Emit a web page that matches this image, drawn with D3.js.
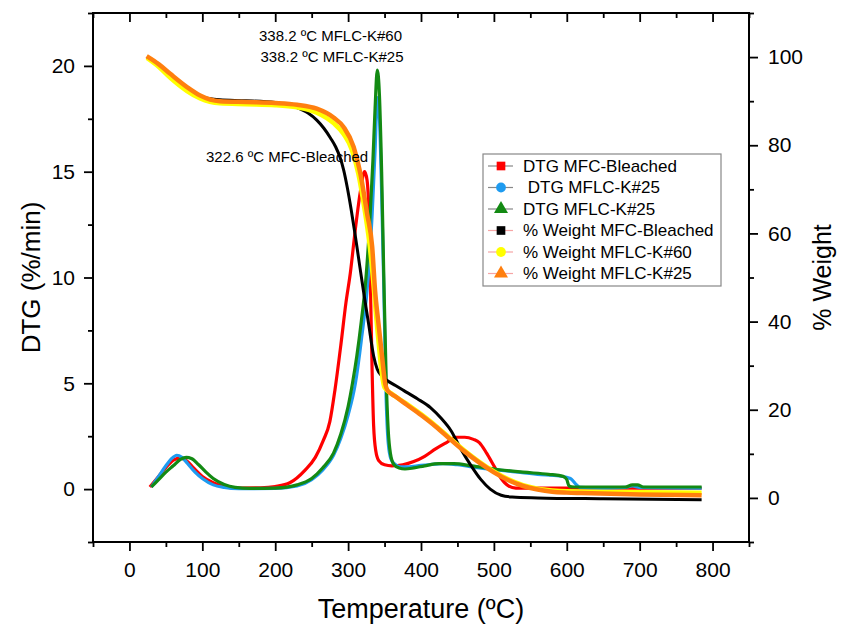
<!DOCTYPE html>
<html>
<head>
<meta charset="utf-8">
<script src="https://cdn.jsdelivr.net/npm/d3@7"></script>
<style>
  body { margin: 0; background: #fff; }
  svg text { font-family: "Liberation Sans", Arial, sans-serif; fill: #000; }
</style>
</head>
<body>
<div id="chart"></div>
<script>
// axis ticks
const tempTicks = [0, 100, 200, 300, 400, 500, 600, 700, 800];
const dtgTicks = [0, 5, 10, 15, 20];
const weightTicks = [0, 20, 40, 60, 80, 100];

// DTG curves, [temperature, %/min]
const dtgBleached = [[28,0.1],[40,0.6],[52,1.1],[62,1.4],[70,1.46],[78,1.35],[88,1.0],[100,0.6],[115,0.3],[130,0.12],[150,0.05],[180,0.06],[200,0.12],[220,0.3],[241,0.9],[255,1.5],[266,2.3],[275,3.2],[282,4.7],[290,6.8],[297,8.8],[303,10.2],[310,12.3],[317,14.1],[322.6,15.0],[326,14.6],[329,12.5],[331,9],[333,5.5],[335,3],[338,1.8],[342,1.35],[350,1.15],[360,1.1],[375,1.15],[390,1.3],[405,1.55],[420,1.9],[435,2.2],[448,2.45],[460,2.45],[472,2.35],[480,2.2],[490,1.7],[500,1.1],[510,0.5],[520,0.15],[530,0.05],[600,0.05],[700,0.04],[785,0.04]];
const dtgK60 = [[30,0.1],[40,0.6],[50,1.1],[58,1.45],[65,1.6],[72,1.5],[80,1.2],[90,0.8],[100,0.5],[115,0.2],[130,0.08],[150,0.02],[200,0.03],[230,0.15],[250,0.45],[265,0.9],[280,1.6],[290,2.4],[300,3.5],[310,5.0],[318,7.0],[328,10.2],[333,13],[337,16],[340,18.5],[343,17.5],[346,14],[349,9.5],[352,4.5],[355,2.2],[359,1.4],[365,1.15],[372,1.05],[380,1.05],[395,1.1],[410,1.15],[430,1.2],[450,1.15],[480,1.0],[520,0.85],[560,0.7],[590,0.62],[605,0.5],[612,0.25],[618,0.08],[650,0.05],[680,0.08],[690,0.15],[700,0.08],[785,0.05]];
const dtgK25 = [[30,0.1],[40,0.45],[50,0.8],[60,1.1],[70,1.4],[78,1.5],[85,1.45],[95,1.15],[105,0.8],[115,0.5],[130,0.22],[145,0.08],[165,0.03],[200,0.05],[230,0.2],[250,0.5],[265,1.0],[280,1.7],[290,2.6],[300,3.9],[306,5.0],[312,6.3],[318,7.9],[325,10.2],[330,12.8],[334,15.5],[337,18.0],[340,19.8],[343,18.6],[346,15],[349,10],[352,5.5],[355,2.8],[358,1.7],[363,1.15],[370,1.0],[378,0.95],[390,1.0],[405,1.1],[425,1.2],[445,1.2],[470,1.1],[500,0.95],[540,0.8],[575,0.7],[595,0.6],[600,0.45],[603,0.15],[610,0.1],[680,0.1],[690,0.2],[697,0.2],[705,0.1],[785,0.1]];

// weight curves, [temperature, %]
const wtBleached = [[24,100],[40,98.2],[56,95.8],[79,92.8],[97,91.0],[124,90.3],[160,90.1],[200,89.7],[225,88.8],[245,87.3],[257,85.7],[267,83.8],[276,81.6],[283,79.6],[289,77.2],[294,74.3],[299,70.3],[304,65.6],[309,60.4],[314,54.8],[321,47],[328,39.6],[335,32.2],[340,29.2],[346,27.7],[353,26.7],[365,25.5],[376,24.4],[395,22.5],[413,20.5],[428,18],[441,15.3],[455,11],[468,7.5],[482,4.2],[495,2.0],[510,0.6],[525,0.2],[560,0],[650,-0.2],[785,-0.4]];
const wtK60 = [[24,99.8],[40,97.8],[56,95.3],[79,92.3],[97,90.6],[124,89.5],[160,89.3],[200,89.1],[230,88.6],[257,87.4],[280,85],[294,82.5],[305,79],[314,73.5],[322,66],[329,58],[334,50],[338,42],[342,35],[346,28.5],[350,25],[360,23.6],[380,21.4],[400,19],[420,16.4],[440,13.5],[460,10.7],[480,8.2],[500,6.0],[520,4.2],[540,2.9],[560,2.1],[580,1.7],[600,1.5],[700,1.3],[785,1.2]];
const wtK25 = [[23.6,100.2],[40,98.4],[56,96.2],[79,93.2],[97,91.3],[124,90.0],[160,89.8],[200,89.6],[230,89.2],[257,88.3],[280,86.3],[294,84.1],[307.6,79.6],[316.8,73.6],[326,64.5],[333,57],[337,47],[341.7,39.5],[346.6,32],[351,25.8],[354,24.4],[365,23.0],[380,21.2],[400,18.8],[420,16.2],[440,13.3],[460,10.5],[480,8.0],[500,5.8],[520,4.0],[540,2.7],[560,1.9],[580,1.4],[600,1.2],[620,1.1],[700,0.8],[785,0.6]];

const seriesNames = ["DTG MFC-Bleached", " DTG MFLC-K#25", "DTG MFLC-K#25", "% Weight MFC-Bleached", "% Weight MFLC-K#60", "% Weight MFLC-K#25"];
const peakLabels = ["338.2 ºC MFLC-K#60", "338.2 ºC MFLC-K#25", "322.6 ºC MFC-Bleached"];

function drawChart() {
    const margin = { top: 13, right: 92, bottom: 82, left: 93 };
    const width = 841 - margin.left - margin.right;
    const height = 624 - margin.top - margin.bottom;

    const svg = d3.select("#chart")
        .append("svg")
        .attr("width", 841)
        .attr("height", 624)
        .append("g")
        .attr("transform", "translate(" + margin.left + "," + margin.top + ")");

    const xScale = d3.scaleLinear().domain([-50, 850]).range([0, width]);
    const yScale = d3.scaleLinear().domain([-2.5, 22.5]).range([height, 0]);
    const wScale = d3.scaleLinear().domain([-10, 110]).range([height, 0]);

    const xMinor = d3.range(-50, 851, 50).filter(v => v % 100 !== 0);
    const yMinor = d3.range(-2.5, 22.6, 5);
    const wMinor = d3.range(-10, 111, 20);

    // bottom axis
    svg.append("g").attr("class", "axis")
        .attr("transform", "translate(0," + height + ")")
        .call(d3.axisBottom(xScale).tickValues(tempTicks).tickSize(9).tickPadding(11));
    svg.append("g").attr("class", "axis")
        .attr("transform", "translate(0," + height + ")")
        .call(d3.axisBottom(xScale).tickValues(xMinor).tickSize(5).tickFormat(""));
    // top ticks point inwards
    svg.append("g").attr("class", "axis")
        .call(d3.axisTop(xScale).tickValues(tempTicks).tickSize(-9).tickFormat(""));
    svg.append("g").attr("class", "axis")
        .call(d3.axisTop(xScale).tickValues(xMinor).tickSize(-5).tickFormat(""));

    // left axis
    svg.append("g").attr("class", "axis")
        .call(d3.axisLeft(yScale).tickValues(dtgTicks).tickSize(9).tickPadding(9));
    svg.append("g").attr("class", "axis")
        .call(d3.axisLeft(yScale).tickValues(yMinor).tickSize(5).tickFormat(""));

    // right axis
    svg.append("g").attr("class", "axis")
        .attr("transform", "translate(" + width + ",0)")
        .call(d3.axisRight(wScale).tickValues(weightTicks).tickSize(9).tickPadding(10));
    svg.append("g").attr("class", "axis")
        .attr("transform", "translate(" + width + ",0)")
        .call(d3.axisRight(wScale).tickValues(wMinor).tickSize(5).tickFormat(""));

    svg.selectAll(".axis .domain").remove();
    svg.selectAll(".axis line").attr("stroke", "#000").attr("stroke-width", 1.8);
    svg.selectAll(".axis text").style("font-size", "21px").style("font-family", "Liberation Sans, Arial, sans-serif");

    svg.append("rect")
        .attr("width", width)
        .attr("height", height)
        .attr("fill", "none")
        .attr("stroke", "#000")
        .attr("stroke-width", 2);

    // curves
    const dtgLine = d3.line().x(d => xScale(d[0])).y(d => yScale(d[1])).curve(d3.curveMonotoneX);
    const wtLine = d3.line().x(d => xScale(d[0])).y(d => wScale(d[1])).curve(d3.curveMonotoneX);

    const dtgSeries = [[dtgBleached, "#ff0000"], [dtgK60, "#1e9bf0"], [dtgK25, "#138a13"]];
    dtgSeries.forEach(s => {
        svg.append("path")
            .attr("d", dtgLine(s[0]))
            .attr("fill", "none")
            .attr("stroke", s[1])
            .attr("stroke-width", 3.2);
    });

    const wtSeries = [[wtBleached, "#000000", 3], [wtK60, "#ffff00", 4.5], [wtK25, "#ff7f0e", 4.5]];
    wtSeries.forEach(s => {
        svg.append("path")
            .attr("d", wtLine(s[0]))
            .attr("fill", "none")
            .attr("stroke", s[1])
            .attr("stroke-width", s[2]);
    });

    // peak annotations
    const ann = svg.append("g").style("font-size", "15px");
    ann.append("text").attr("x", 259 - margin.left).attr("y", 41 - margin.top).text(peakLabels[0]);
    ann.append("text").attr("x", 260.5 - margin.left).attr("y", 62 - margin.top).text(peakLabels[1]);
    ann.append("text").attr("x", 206 - margin.left).attr("y", 162 - margin.top).text(peakLabels[2]);

    // legend
    const legend = svg.append("g").attr("transform", "translate(" + (483 - margin.left) + "," + (154 - margin.top) + ")");
    legend.append("rect")
        .attr("width", 238).attr("height", 132)
        .attr("fill", "#fff").attr("stroke", "#888").attr("stroke-width", 1.2);
    const markerColors = ["#ff0000", "#1e9bf0", "#138a13", "#000000", "#ffff00", "#ff7f0e"];
    const markerShapes = [d3.symbolSquare, d3.symbolCircle, d3.symbolTriangle, d3.symbolSquare, d3.symbolCircle, d3.symbolTriangle];
    seriesNames.forEach((name, i) => {
        const ry = 12 + i * 21.5;
        legend.append("line")
            .attr("x1", 5).attr("x2", 30).attr("y1", ry).attr("y2", ry)
            .attr("stroke", i < 3 ? "#888" : "#f6a5a5").attr("stroke-width", 1.2);
        legend.append("path")
            .attr("d", d3.symbol().type(markerShapes[i]).size(markerShapes[i] === d3.symbolTriangle ? 85 : 75)())
            .attr("transform", "translate(18," + ry + ")")
            .attr("fill", markerColors[i]);
        legend.append("text")
            .attr("x", 40).attr("y", ry).attr("dy", "0.35em")
            .style("font-size", "17px")
            .style("white-space", "pre")
            .attr("xml:space", "preserve")
            .text(name);
    });

    // axis titles
    svg.append("text")
        .attr("x", width / 2).attr("y", 618 - margin.top)
        .attr("text-anchor", "middle")
        .style("font-size", "27px")
        .text("Temperature (ºC)");
    svg.append("text")
        .attr("transform", "translate(" + (40 - margin.left) + "," + (height / 2) + ") rotate(-90)")
        .attr("text-anchor", "middle")
        .style("font-size", "26px")
        .text("DTG (%/min)");
    svg.append("text")
        .attr("transform", "translate(" + (831 - margin.left) + "," + (height / 2) + ") rotate(-90)")
        .attr("text-anchor", "middle")
        .style("font-size", "25px")
        .text("% Weight");
}

drawChart();
</script>
</body>
</html>
